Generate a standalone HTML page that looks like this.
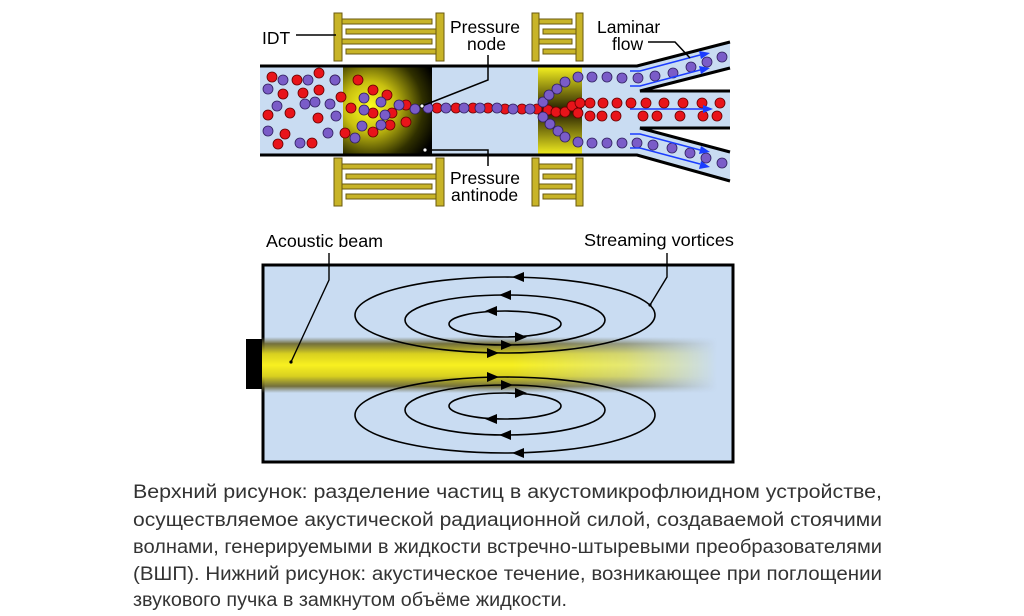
<!DOCTYPE html>
<html><head><meta charset="utf-8"><style>
html,body{margin:0;padding:0;background:#fff;}
svg{display:block;}
text{font-family:"Liberation Sans",sans-serif;}
</style></head><body>
<svg width="1024" height="616" viewBox="0 0 1024 616" xmlns="http://www.w3.org/2000/svg">
<defs>
<radialGradient id="lg" cx="0.3" cy="0.45" r="0.8">
<stop offset="0" stop-color="#ffff20"/><stop offset="0.35" stop-color="#c8c010"/><stop offset="0.75" stop-color="#303000"/><stop offset="1" stop-color="#000"/>
</radialGradient>
<linearGradient id="rg" x1="0" y1="0" x2="0" y2="1">
<stop offset="0" stop-color="#f4f020"/><stop offset="0.5" stop-color="#201a00"/><stop offset="1" stop-color="#f4f020"/>
</linearGradient>
<linearGradient id="beamv" x1="0" y1="0" x2="0" y2="1">
<stop offset="0" stop-color="#6a6a50" stop-opacity="0"/><stop offset="0.12" stop-color="#6a6428" stop-opacity="0.9"/><stop offset="0.3" stop-color="#d8d020"/><stop offset="0.5" stop-color="#f8f020"/><stop offset="0.7" stop-color="#d8d020"/><stop offset="0.88" stop-color="#6a6428" stop-opacity="0.9"/><stop offset="1" stop-color="#6a6a50" stop-opacity="0"/>
</linearGradient>
<linearGradient id="beamh" x1="0" y1="0" x2="1" y2="0">
<stop offset="0" stop-color="#fff"/><stop offset="0.55" stop-color="#fff"/><stop offset="0.8" stop-color="#999"/><stop offset="1" stop-color="#000"/>
</linearGradient>
<linearGradient id="beamd" x1="0" y1="0" x2="1" y2="0">
<stop offset="0" stop-color="#808040" stop-opacity="0"/><stop offset="0.6" stop-color="#707040" stop-opacity="0"/><stop offset="0.85" stop-color="#606050" stop-opacity="0.7"/><stop offset="1" stop-color="#606050" stop-opacity="0"/>
</linearGradient>
<mask id="bm"><rect x="262" y="335" width="455" height="60" fill="url(#beamh)"/></mask>
<g id="idt" fill="#c8b428" stroke="#6a5a10" stroke-width="1">
<rect x="0" y="0" width="8" height="48"/><rect x="102" y="0" width="8" height="48"/>
<rect x="8" y="6" width="90" height="5"/><rect x="12" y="16" width="90" height="5"/><rect x="8" y="26" width="90" height="5"/><rect x="12" y="36" width="90" height="5"/>
</g>
<g id="idts" fill="#c8b428" stroke="#6a5a10" stroke-width="1">
<rect x="0" y="0" width="7" height="48"/><rect x="44" y="0" width="7" height="48"/>
<rect x="7" y="6" width="33" height="5"/><rect x="11" y="16" width="33" height="5"/><rect x="7" y="26" width="33" height="5"/><rect x="11" y="36" width="33" height="5"/>
</g>
</defs>
<rect width="1024" height="616" fill="#fff"/>

<rect x="260" y="67" width="380" height="88" fill="#c9dcf2"/>
<polygon points="637,67 730,43 730,68 640,92 730,92 730,127 640,127 730,152 730,180 637,155" fill="#c9dcf2"/>
<rect x="343" y="67" width="89" height="88" fill="url(#lg)"/>
<rect x="538" y="67" width="44" height="88" fill="url(#rg)"/>
<g stroke="#000" stroke-width="3" fill="none">
<polyline points="260,66 637,66 730,42"/>
<polyline points="260,155 637,155 730,181"/>
<polyline points="730,68 640,91 730,91"/>
<polyline points="730,128 640,128 730,152"/>
</g>
<use href="#idt" x="334" y="13"/>
<use href="#idt" x="334" y="158"/>
<use href="#idts" x="532" y="13"/>
<use href="#idts" x="532" y="158"/>

<g stroke="#600" stroke-width="0.8" fill="#e8141a">
<circle cx="272" cy="77" r="5"/><circle cx="297" cy="80" r="5"/><circle cx="319" cy="73" r="5"/><circle cx="283" cy="94" r="5"/><circle cx="303" cy="93" r="5"/><circle cx="319" cy="90" r="5"/><circle cx="268" cy="115" r="5"/><circle cx="290" cy="113" r="5"/><circle cx="318" cy="118" r="5"/><circle cx="285" cy="134" r="5"/><circle cx="278" cy="144" r="5"/><circle cx="312" cy="143" r="5"/><circle cx="335" cy="80" r="5"/><circle cx="341" cy="97" r="5"/><circle cx="345" cy="133" r="5"/>
<circle cx="358" cy="80" r="5"/><circle cx="373" cy="90" r="5"/><circle cx="387" cy="95" r="5"/><circle cx="351" cy="108" r="5"/><circle cx="373" cy="113" r="5"/><circle cx="392" cy="113" r="5"/><circle cx="373" cy="132" r="5"/><circle cx="406" cy="105" r="5"/><circle cx="406" cy="122" r="5"/><circle cx="390" cy="125" r="5"/>
<circle cx="437" cy="108" r="5"/><circle cx="456" cy="108" r="5"/><circle cx="473" cy="108" r="5"/><circle cx="488" cy="108" r="5"/><circle cx="505" cy="109" r="5"/><circle cx="522" cy="109" r="5"/><circle cx="537" cy="109" r="5"/><circle cx="548" cy="110" r="5"/><circle cx="556" cy="112" r="5"/><circle cx="565" cy="112" r="5"/><circle cx="572" cy="106" r="5"/><circle cx="578" cy="113" r="5"/><circle cx="580" cy="103" r="5"/>
<circle cx="590" cy="103" r="5"/><circle cx="603" cy="103" r="5"/><circle cx="617" cy="103" r="5"/><circle cx="631" cy="103" r="5"/><circle cx="590" cy="116" r="5"/><circle cx="602" cy="116" r="5"/><circle cx="616" cy="116" r="5"/><circle cx="646" cy="103" r="5"/><circle cx="664" cy="103" r="5"/><circle cx="683" cy="103" r="5"/><circle cx="702" cy="103" r="5"/><circle cx="720" cy="103" r="5"/><circle cx="643" cy="116" r="5"/><circle cx="657" cy="116" r="5"/><circle cx="680" cy="116" r="5"/><circle cx="703" cy="116" r="5"/><circle cx="717" cy="116" r="5"/>
</g>
<g stroke="#302060" stroke-width="0.8" fill="#7a5cc8">
<circle cx="283" cy="80" r="5"/><circle cx="268" cy="89" r="5"/><circle cx="308" cy="80" r="5"/><circle cx="277" cy="106" r="5"/><circle cx="305" cy="104" r="5"/><circle cx="315" cy="102" r="5"/><circle cx="268" cy="131" r="5"/><circle cx="300" cy="143" r="5"/><circle cx="328" cy="133" r="5"/><circle cx="335" cy="80" r="5"/><circle cx="330" cy="104" r="5"/><circle cx="336" cy="116" r="5"/>
<circle cx="364" cy="98" r="5"/><circle cx="381" cy="102" r="5"/><circle cx="364" cy="110" r="5"/><circle cx="381" cy="125" r="5"/><circle cx="362" cy="126" r="5"/><circle cx="355" cy="138" r="5"/><circle cx="399" cy="105" r="5"/><circle cx="385" cy="115" r="5"/><circle cx="415" cy="109" r="5"/>
<circle cx="428" cy="108" r="5"/><circle cx="446" cy="108" r="5"/><circle cx="464" cy="108" r="5"/><circle cx="480" cy="108" r="5"/><circle cx="497" cy="108" r="5"/><circle cx="513" cy="109" r="5"/><circle cx="530" cy="109" r="5"/>
<circle cx="543" cy="102" r="5"/><circle cx="549" cy="95" r="5"/><circle cx="557" cy="89" r="5"/><circle cx="565" cy="82" r="5"/><circle cx="578" cy="77" r="5"/><circle cx="543" cy="117" r="5"/><circle cx="550" cy="124" r="5"/><circle cx="558" cy="131" r="5"/><circle cx="565" cy="137" r="5"/><circle cx="578" cy="142" r="5"/>
<circle cx="592" cy="77" r="5"/><circle cx="607" cy="77" r="5"/><circle cx="622" cy="78" r="5"/><circle cx="638" cy="78" r="5"/><circle cx="655" cy="76" r="5"/><circle cx="673" cy="73" r="5"/><circle cx="691" cy="67" r="5"/><circle cx="707" cy="62" r="5"/><circle cx="722" cy="57" r="5"/>
<circle cx="592" cy="143" r="5"/><circle cx="607" cy="143" r="5"/><circle cx="622" cy="143" r="5"/><circle cx="637" cy="143" r="5"/><circle cx="653" cy="145" r="5"/><circle cx="672" cy="148" r="5"/><circle cx="690" cy="153" r="5"/><circle cx="706" cy="158" r="5"/><circle cx="722" cy="163" r="5"/>
</g>
<g stroke="#1a3cff" stroke-width="1.6" fill="none">
<polyline points="630,71 640,71 700,55"/><polyline points="630,86 640,86 700,70"/>
<line x1="630" y1="109" x2="703" y2="109"/>
<polyline points="630,134 640,134 700,150"/><polyline points="630,148 640,148 700,164"/>
</g>
<g fill="#1a3cff">
<polygon points="710,53 699,51 701,59"/><polygon points="710,68 699,66 701,74"/><polygon points="713,109 703,105 703,113"/><polygon points="710,152 701,146 699,154"/><polygon points="710,167 701,161 699,169"/>
</g>

<g fill="#000" font-size="17.5">
<text x="262" y="44">IDT</text>
<text x="450" y="33">Pressure</text><text x="467" y="50">node</text>
<text x="597" y="33">Laminar</text><text x="612" y="50">flow</text>
<text x="450" y="184">Pressure</text><text x="451" y="201">antinode</text>
</g>
<g stroke="#000" stroke-width="1.5" fill="none">
<line x1="296" y1="35" x2="336" y2="35"/>
<polyline points="488,55 488,80 422,106"/>
<polyline points="425,150 488,150 488,166"/>
<polyline points="648,42 675,42 690,58"/>
</g>
<circle cx="422" cy="106" r="2" fill="#fff" stroke="#000" stroke-width="0.8"/>
<circle cx="425" cy="150" r="2" fill="#fff" stroke="#000" stroke-width="0.8"/>

<rect x="263" y="265" width="470" height="197" fill="#c9dcf2" stroke="#000" stroke-width="3"/>
<rect x="246" y="339" width="16" height="50" fill="#000"/>
<g mask="url(#bm)">
<rect x="262" y="337" width="455" height="56" fill="url(#beamv)"/>
</g>
<g stroke="#000" stroke-width="1.6" fill="none">
<ellipse cx="505" cy="315" rx="150" ry="38"/>
<ellipse cx="505" cy="320" rx="100" ry="25"/>
<ellipse cx="505" cy="324" rx="56" ry="13"/>
<ellipse cx="505" cy="415" rx="150" ry="38"/>
<ellipse cx="505" cy="410" rx="100" ry="25"/>
<ellipse cx="505" cy="406" rx="56" ry="13"/>
</g>
<g fill="#000">
<polygon points="512,277 524,272 524,282"/><polygon points="499,295 511,290 511,300"/><polygon points="485,311 497,306 497,316"/>
<polygon points="527,337 515,332 515,342"/><polygon points="513,345 501,340 501,350"/><polygon points="499,353 487,348 487,358"/>
<polygon points="499,377 487,372 487,382"/><polygon points="513,385 501,380 501,390"/><polygon points="527,393 515,388 515,398"/>
<polygon points="485,419 497,414 497,424"/><polygon points="499,435 511,430 511,440"/><polygon points="512,453 524,448 524,458"/>
</g>
<g fill="#000" font-size="17.5">
<text x="266" y="247" textLength="117" lengthAdjust="spacingAndGlyphs">Acoustic beam</text>
<text x="584" y="246" textLength="150" lengthAdjust="spacingAndGlyphs">Streaming vortices</text>
</g>
<g stroke="#000" stroke-width="1.4" fill="none">
<polyline points="329,253 329,280 291,362"/>
<polyline points="667,253 667,277 650,305"/>
</g>
<circle cx="291" cy="362" r="1.6" fill="#000"/>
<circle cx="650" cy="305" r="1.6" fill="#000"/>

<g fill="#333" font-size="19">
<text x="133" y="498" textLength="749" lengthAdjust="spacingAndGlyphs">Верхний  рисунок:  разделение  частиц  в  акустомикрофлюидном  устройстве,</text>
<text x="133" y="526" textLength="749" lengthAdjust="spacingAndGlyphs">осуществляемое  акустической  радиационной  силой,  создаваемой  стоячими</text>
<text x="133" y="553" textLength="749" lengthAdjust="spacingAndGlyphs">волнами, генерируемыми в жидкости встречно-штыревыми преобразователями</text>
<text x="133" y="580" textLength="749" lengthAdjust="spacingAndGlyphs">(ВШП).  Нижний  рисунок:  акустическое  течение,  возникающее  при  поглощении</text>
<text x="133" y="606" textLength="434" lengthAdjust="spacingAndGlyphs">звукового пучка в замкнутом объёме жидкости.</text>
</g>
</svg>
</body></html>
